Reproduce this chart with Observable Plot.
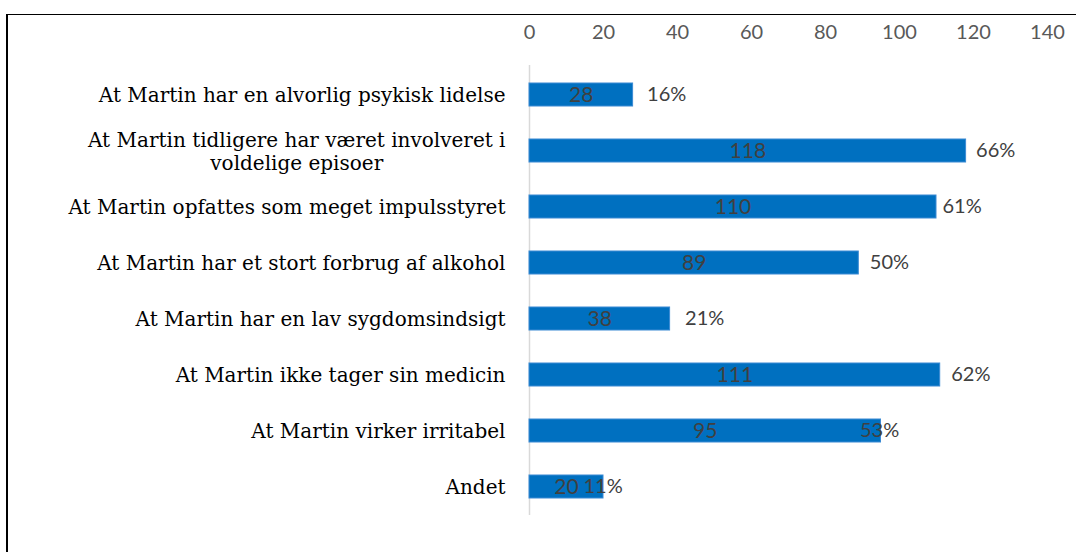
<!DOCTYPE html>
<html>
<head>
<meta charset="utf-8">
<script src="https://cdn.jsdelivr.net/npm/d3@7"></script>
<script src="https://cdn.jsdelivr.net/npm/@observablehq/plot@0.6"></script>
<style>
  html, body { margin: 0; padding: 0; background: #fff; }
  #wrap { position: relative; width: 1076px; height: 552px; overflow: hidden; }
  #frame { position: absolute; left: 6px; top: 14px; right: 0; bottom: 0;
           border-left: 2px solid #000; border-top: 1px solid #000; pointer-events: none; }
</style>
</head>
<body>
<div id="wrap"><div id="frame"></div></div>
<script>
const categories = [
  "At Martin har en alvorlig psykisk lidelse",
  "At Martin tidligere har været involveret i\nvoldelige episoer",
  "At Martin opfattes som meget impulsstyret",
  "At Martin har et stort forbrug af alkohol",
  "At Martin har en lav sygdomsindsigt",
  "At Martin ikke tager sin medicin",
  "At Martin virker irritabel",
  "Andet"
];
const counts = [28, 118, 110, 89, 38, 111, 95, 20];
const percents = ["16%", "66%", "61%", "50%", "21%", "62%", "53%", "11%"];
const tickValues = [0, 20, 40, 60, 80, 100, 120, 140];

const data = categories.map((c, i) => ({category: c, count: counts[i], pct: percents[i]}));

// layout nudges for the percentage labels (pixels from bar end), as placed in the original
const pctNudge = [14, 10, 6, 11, 15, 11, -21, -20];

const sans = "Lato, 'Open Sans', sans-serif";
const serif = "'DejaVu Serif', serif";
const catSize = 20;

const chart = Plot.plot({
  width: 1076,
  height: 552,
  marginLeft: 529,
  marginRight: 29,
  marginTop: 65,
  marginBottom: 37,
  x: {domain: [0, 140], axis: null},
  y: {domain: categories, axis: null, paddingInner: 0.59, paddingOuter: 0.295},
  style: {background: "transparent"},
  marks: [
    Plot.ruleX([0], {stroke: "#d9d9d9", strokeWidth: 1.5}),
    Plot.barX(data, {x: "count", y: "category", fill: "#0070C0", stroke: "#3a8ad4", strokeWidth: 1}),
    Plot.text(tickValues, {x: d => d, frameAnchor: "top", dy: -33, text: d => String(d),
      lineAnchor: "middle", fill: "#595959", fontSize: 20, fontFamily: sans}),
    Plot.text(data, {y: "category", text: "category", frameAnchor: "left", dx: -24,
      textAnchor: "end", lineAnchor: "middle", lineHeight: 1.15, fill: "#000",
      fontSize: catSize, fontFamily: serif}),
    Plot.text(data, {x: d => d.count / 2, y: "category", text: d => String(d.count),
      fill: "#404040", fontSize: 21, fontFamily: sans}),
    ...data.map((d, i) => Plot.text([d], {x: "count", y: "category", text: "pct",
      textAnchor: "start", dx: pctNudge[i], fill: "#404040", fontSize: 20, fontFamily: sans}))
  ]
});

const wrap = document.getElementById("wrap");
chart.style.position = "absolute";
chart.style.left = "0";
chart.style.top = "0";
wrap.insertBefore(chart, wrap.firstChild);

// center the lines of a wrapped category label within its right-aligned block
const ctx = document.createElement("canvas").getContext("2d");
ctx.font = `${catSize}px ${serif}`;
chart.querySelectorAll("text").forEach(t => {
  const spans = Array.from(t.querySelectorAll("tspan"));
  if (spans.length > 1) {
    const maxW = Math.max(...spans.map(s => ctx.measureText(s.textContent).width));
    t.setAttribute("text-anchor", "middle");
    t.style.textAnchor = "middle";
    spans.forEach(s => { s.setAttribute("x", String(-maxW / 2)); s.style.textAnchor = "middle"; });
  }
});
</script>
</body>
</html>
